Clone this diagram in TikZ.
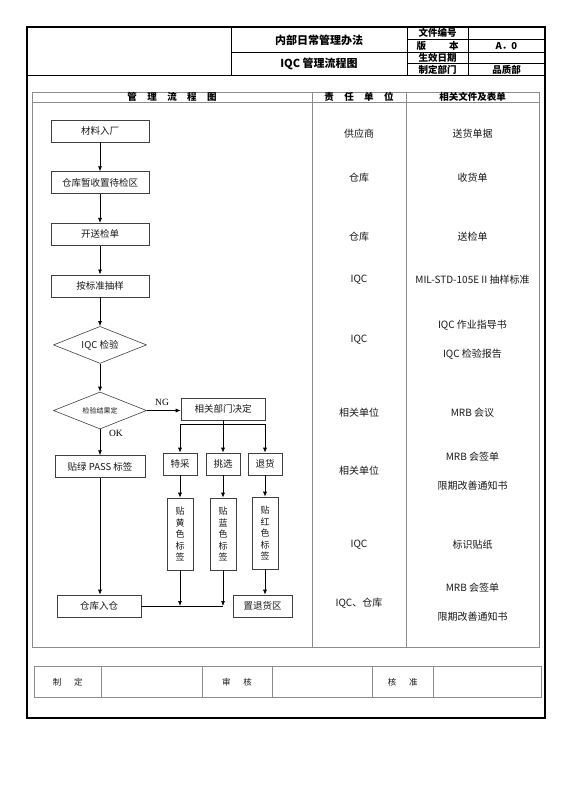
\documentclass[tikz,border=0pt]{standalone}
\usepackage{fontspec}
\setmainfont{Noto Sans CJK SC}
\newfontfamily\latin{Liberation Serif}
\usepackage{xcolor}
\usetikzlibrary{arrows.meta,positioning,shapes.geometric}

\begin{document}
\begin{tikzpicture}[x=1pt, y=-1pt,
  node distance=29pt,
  frame/.style={line width=0.6pt},
  grid/.style={draw=black!45, line width=0.6pt},
  stage/.style={draw=black!75, line width=0.6pt, minimum width=98pt, minimum height=22pt, inner sep=1pt, text=black!90, font=\fontsize{9.5}{11}\selectfont},
  check/.style={stage, diamond, aspect=2.5, minimum width=93pt, minimum height=37pt, inner sep=0pt},
  choice/.style={stage, minimum width=34pt},
  tag/.style={stage, minimum width=26pt, minimum height=72pt, align=center, font=\fontsize{9}{11.5}\selectfont},
  cell/.style={inner sep=0pt, text width=42pt, align=center, font=\bfseries\fontsize{9.5}{11}\selectfont},
  head/.style={inner sep=0pt, font=\bfseries\fontsize{9.5}{11}\selectfont},
  note/.style={text=black!90, font=\fontsize{10}{12}\selectfont},
  lbl/.style={inner sep=1pt, font=\latin\fontsize{9.5}{11}\selectfont},
  arrow/.style={-{Latex[length=5pt,width=4pt]}, line width=0.7pt},
  link/.style={line width=0.7pt}
]
\useasboundingbox (0,0) rectangle (560,792);
\fill[white] (0,0) rectangle (560,792);

\draw[line width=1.8pt] (27,27) rectangle (545,718);
\draw[frame] (27,75.5) -- (545,75.5) (231,27) -- (231,75.5) (407,27) -- (407,75.5)
  (468,27) -- (468,75.5) (231,52) -- (545,52) (407,39.3) -- (545,39.3) (407,63.8) -- (545,63.8);
\node[font=\bfseries\fontsize{11}{13}\selectfont] (title) at (319,40) {内部日常管理办法};
\node[font=\bfseries\fontsize{11}{13}\selectfont] (subtitle) at (319,64) {IQC 管理流程图};
\node[cell] (fileno) at (437.5,33.2) {文件编号};
\node[cell] (version) at (437.5,45.6) {版\hfill 本};
\node[cell] (date) at (437.5,57.9) {生效日期};
\node[cell] (dept) at (437.5,69.6) {制定部门};
\node[cell] (versionval) at (506.5,45.6) {A．0};
\node[cell] (deptval) at (506.5,69.6) {品质部};

\draw[grid] (32,92) rectangle (539,647) (32,102) -- (539,102) (312,92) -- (312,647) (406,92) -- (406,647);
\node[head] (colflow) at (172,97) {管\hspace{1.1em}理\hspace{1.1em}流\hspace{1.1em}程\hspace{1.1em}图};
\node[head] (colduty) at (359,97) {责\hspace{1.1em}任\hspace{1.1em}单\hspace{1.1em}位};
\node[head] (coldoc) at (472.5,97) {相关文件及表单};

\node[stage] (mat) at (100,131) {材料入厂};
\node[stage, below=of mat] (hold) {仓库暂收置待检区};
\node[stage, below=of hold] (sheet) {开送检单};
\node[stage, below=of sheet] (sample) {按标准抽样};
\node[check, below=29pt of sample] (iqc) {IQC 检验};
\node[check, below=28pt of iqc, font=\fontsize{7}{8}\selectfont] (judge) {检验结果定};
\node[stage, below=26pt of judge, minimum width=90pt] (pass) {贴绿 PASS 标签};
\node[stage, minimum width=84pt] (store) at (99,606) {仓库入仓};

\node[stage, minimum width=84pt] (mrb) at (223,409) {相关部门决定};
\node[choice] (special) at (180,464) {特采};
\node[choice] (pick) at (223,464) {挑选};
\node[choice] (ret) at (265,464) {退货};
\node[tag] (yellow) at (180,534) {贴\\黄\\色\\标\\签};
\node[tag] (blue) at (223,534) {贴\\蓝\\色\\标\\签};
\node[tag] (red) at (265,533) {贴\\红\\色\\标\\签};
\node[stage, minimum width=59pt] (retarea) at (262.5,606) {置退货区};

\foreach \x/\y in {mat/hold,hold/sheet,sheet/sample,sample/iqc,iqc/judge,judge/pass,mrb/pick,special/yellow,pick/blue,ret/red}
  \draw[arrow] (\x) -- (\y);
\draw[arrow] (judge.east) -- (judge.east -| mrb.west);
\draw[arrow] (pass.south) -- (pass.south |- store.north);
\draw[arrow] (red) -- (red |- retarea.north);
\coordinate (split) at (223,424);
\draw[link] (special.north |- split) -- (ret.north |- split);
\draw[arrow] (special.north |- split) -- (special);
\draw[arrow] (ret.north |- split) -- (ret);
\draw[link] (store) -- (blue |- store);
\draw[arrow] (yellow) -- (yellow |- store);
\draw[arrow] (blue) -- (blue |- store);
\node[lbl] (ng) at (162,402) {NG};
\node[lbl] (ok) at (116,433) {OK};

\foreach \y/\t [count=\i] in {134/供应商,178/仓库,237/仓库,280/IQC,340/IQC,413/相关单位,471/相关单位,545/IQC,603/IQC、仓库}
  \node[note] (duty\i) at (359,\y) {\t};
\foreach \y/\t [count=\i] in {134/送货单据,178/收货单,237/送检单,280/MIL-STD-105E II 抽样标准,325/IQC 作业指导书,354/IQC 检验报告,413/MRB 会议,457/MRB 会签单,486/限期改善通知书,545/标识贴纸,588/MRB 会签单,617/限期改善通知书}
  \node[note] (doc\i) at (472.5,\y) {\t};

\draw[grid] (34,666.5) rectangle (541,697) (101.5,666.5) -- (101.5,697) (202.5,666.5) -- (202.5,697)
  (272,666.5) -- (272,697) (372,666.5) -- (372,697) (433.5,666.5) -- (433.5,697);
\node[note, font=\fontsize{8.5}{10}\selectfont] (made) at (67.7,682) {制\hspace{1.5em}定};
\node[note, font=\fontsize{8.5}{10}\selectfont] (review) at (237,682) {审\hspace{1.5em}核};
\node[note, font=\fontsize{8.5}{10}\selectfont] (approve) at (402.7,682) {核\hspace{1.5em}准};
\end{tikzpicture}
\end{document}
